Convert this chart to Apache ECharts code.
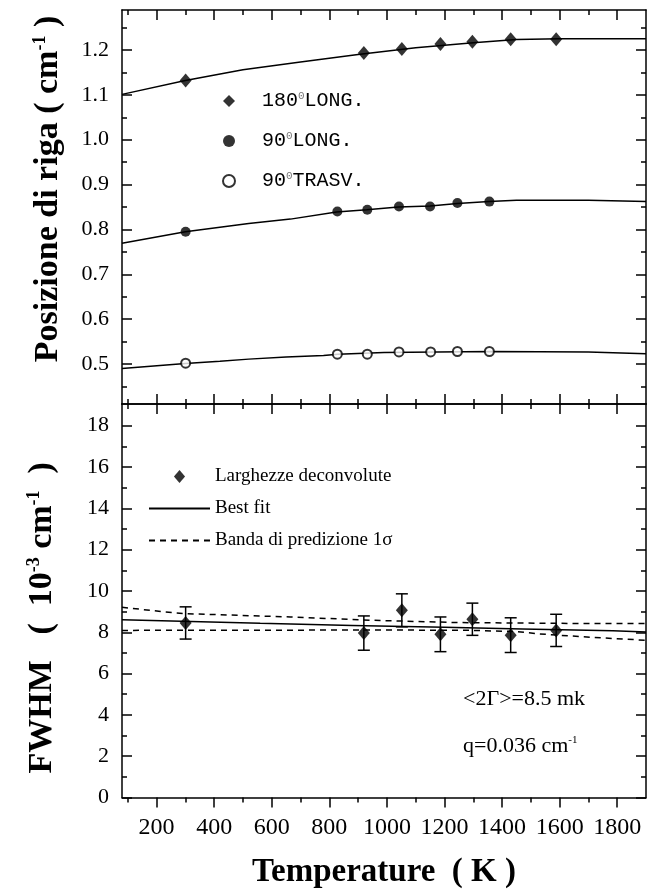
<!DOCTYPE html>
<html><head><meta charset="utf-8">
<script src="https://cdn.jsdelivr.net/npm/echarts@6/dist/echarts.min.js"></script>
<style>html,body{margin:0;padding:0;background:#fff}#c{width:649px;height:895px}</style>
</head><body><div id="c"></div>
<script>
// ---------- data ----------
const xMin = 80, xMax = 1900;
const xTicks = [200, 400, 600, 800, 1000, 1200, 1400, 1600, 1800];
const xMinorTicks = [100, 300, 500, 700, 900, 1100, 1300, 1500, 1700];
const topYMin = 0.411, topYMax = 1.289;
const topYTicks = [0.5, 0.6, 0.7, 0.8, 0.9, 1.0, 1.1, 1.2];
const topYMinor = [0.45, 0.55, 0.65, 0.75, 0.85, 0.95, 1.05, 1.15, 1.25];
const botYMin = 0, botYMax = 19.05;
const botYTicks = [0, 2, 4, 6, 8, 10, 12, 14, 16, 18];
const botYMinor = [1, 3, 5, 7, 9, 11, 13, 15, 17];

const tLong180 = [301, 920, 1052, 1186, 1297, 1430, 1588];
const pLong180 = [1.132, 1.193, 1.202, 1.213, 1.218, 1.224, 1.224];
const tLong90 = [301, 828, 932, 1042, 1150, 1245, 1356];
const pLong90 = [0.795, 0.840, 0.844, 0.851, 0.851, 0.859, 0.862];
const tTrasv90 = [301, 828, 932, 1042, 1152, 1245, 1356];
const pTrasv90 = [0.502, 0.522, 0.522, 0.527, 0.527, 0.528, 0.528];

const fit180T = [80, 300, 500, 700, 900, 1100, 1300, 1450, 1600, 1900];
const fit180V = [1.101, 1.132, 1.156, 1.173, 1.190, 1.205, 1.216, 1.223, 1.225, 1.225];
const fit90LT = [80, 300, 520, 665, 825, 930, 1040, 1150, 1245, 1355, 1450, 1700, 1900];
const fit90LV = [0.769, 0.795, 0.813, 0.823, 0.839, 0.844, 0.850, 0.852, 0.858, 0.862, 0.865, 0.865, 0.862];
const fit90TT = [80, 300, 420, 520, 650, 780, 830, 990, 1360, 1700, 1900];
const fit90TV = [0.490, 0.501, 0.506, 0.511, 0.516, 0.519, 0.522, 0.526, 0.528, 0.527, 0.523];

const tWidth = [301, 920, 1052, 1186, 1297, 1430, 1588];
const fwhm = [8.45, 7.96, 9.06, 7.90, 8.63, 7.86, 8.09];
const fwhmErr = [0.78, 0.83, 0.80, 0.84, 0.78, 0.84, 0.78];

const bestT = [80, 560, 880, 1200, 1470, 1785, 1900];
const bestV = [8.60, 8.43, 8.33, 8.24, 8.16, 8.07, 8.01];
const upT = [80, 230, 300, 665, 950, 1240, 1600, 1900];
const upV = [9.21, 8.98, 8.90, 8.74, 8.58, 8.47, 8.43, 8.42];
const loT = [80, 600, 1000, 1300, 1455, 1530, 1670, 1900];
const loV = [8.09, 8.10, 8.11, 8.09, 8.03, 7.92, 7.79, 7.61];

// ---------- helpers ----------
const zip = (a, b) => a.map((v, i) => [v, b[i]]);
const SERIF = 'Liberation Serif';
const BLK = '#000';
const LW = 1.5;
const DIAMOND = 'path://M0,-7L6,0L0,7L-6,0Z';
const DIAMOND_SQ = 'path://M0,-7L7,0L0,7L-7,0Z';

function axis(grid, pos, min, max, vals, len, inside, label, lineShow) {
  const a = {
    type: 'value', gridIndex: grid, position: pos, min: min, max: max,
    splitLine: { show: false },
    axisLine: { show: lineShow, onZero: false, lineStyle: { color: BLK, width: LW } },
    axisTick: { show: true, inside: inside, length: len, customValues: vals,
                lineStyle: { color: BLK, width: LW } },
    axisLabel: { show: false }
  };
  if (label) {
    a.axisLabel = Object.assign({ show: true, customValues: vals, color: BLK, fontFamily: SERIF }, label);
  }
  return a;
}

const xAxes = [
  // grid 0 (top panel)
  axis(0, 'bottom', xMin, xMax, xTicks, 10, true, null, true),
  axis(0, 'top', xMin, xMax, xTicks, 10, true, null, true),
  axis(0, 'bottom', xMin, xMax, xMinorTicks, 5, true, null, false),
  axis(0, 'top', xMin, xMax, xMinorTicks, 5, true, null, false),
  // grid 1 (bottom panel)
  axis(1, 'bottom', xMin, xMax, xTicks, 10, false, { fontSize: 24, margin: 18, formatter: v => String(v) }, true),
  axis(1, 'top', xMin, xMax, xTicks, 10, true, null, true),
  axis(1, 'bottom', xMin, xMax, xMinorTicks, 5, false, null, false),
  axis(1, 'top', xMin, xMax, xMinorTicks, 5, true, null, false)
];
xAxes[4].name = 'Temperature  ( K )';
xAxes[4].nameLocation = 'middle';
xAxes[4].nameGap = 58;
xAxes[4].nameTextStyle = { fontFamily: SERIF, fontWeight: 'bold', fontSize: 33, color: BLK };

const yAxes = [
  axis(0, 'left', topYMin, topYMax, topYTicks, 10, true,
       { fontSize: 22, margin: 13, formatter: v => v.toFixed(1) }, true),
  axis(0, 'right', topYMin, topYMax, topYTicks, 10, true, null, true),
  axis(0, 'left', topYMin, topYMax, topYMinor, 5, true, null, false),
  axis(0, 'right', topYMin, topYMax, topYMinor, 5, true, null, false),
  axis(1, 'left', botYMin, botYMax, botYTicks, 10, true, { fontSize: 22, margin: 13 }, true),
  axis(1, 'right', botYMin, botYMax, botYTicks, 10, true, null, true),
  axis(1, 'left', botYMin, botYMax, botYMinor, 5, true, null, false),
  axis(1, 'right', botYMin, botYMax, botYMinor, 5, true, null, false)
];
const titleRich = {
  t: { fontFamily: SERIF, fontWeight: 'bold', fontSize: 34, color: BLK },
  s: { fontFamily: SERIF, fontWeight: 'bold', fontSize: 18, color: BLK, verticalAlign: 'top' }
};
yAxes[0].name = '{t|Posizione di riga ( cm}{s|-1}{t| )}';
yAxes[0].nameLocation = 'middle';
yAxes[0].nameRotate = 90;
yAxes[0].nameGap = 57;
yAxes[0].nameTextStyle = { rich: titleRich, padding: [0, 0, 0, 36] };
yAxes[4].name = '{t|FWHM   (  10}{s|-3}{t| cm}{s|-1}{t|  )}';
yAxes[4].nameLocation = 'middle';
yAxes[4].nameRotate = 90;
yAxes[4].nameGap = 63;
yAxes[4].nameTextStyle = { rich: titleRich, padding: [0, 34, 0, 0] };

const lineS = (name, t, v, xi, yi, dashed) => ({
  name: name, type: 'line', xAxisIndex: xi, yAxisIndex: yi, data: zip(t, v),
  symbol: 'none', silent: true, z: 2,
  lineStyle: { color: BLK, width: LW, type: dashed ? [6, 5] : 'solid' },
  itemStyle: { color: BLK }
});

const N180 = '180 LONG.', N90L = '90 LONG.', N90T = '90 TRASV.';
const legRich = {
  a: { fontFamily: 'Liberation Mono', fontSize: 20, color: BLK, verticalAlign: 'bottom' },
  s: { fontFamily: 'Liberation Mono', fontSize: 11, color: '#777', verticalAlign: 'top' }
};
const legFmt = { [N180]: '{a|180}{s|0}{a|LONG.}', [N90L]: '{a|90}{s|0}{a|LONG.}', [N90T]: '{a|90}{s|0}{a|TRASV.}' };

const option = {
  backgroundColor: '#fff',
  animation: false,
  grid: [
    { left: 122, width: 524, top: 10, height: 394, containLabel: false },
    { left: 122, width: 524, top: 404, height: 393.5, containLabel: false }
  ],
  xAxis: xAxes,
  yAxis: yAxes,
  legend: [
    {
      data: [{ name: N180, icon: DIAMOND_SQ }, { name: N90L, icon: 'circle' }, { name: N90T, icon: 'emptyCircle' }],
      orient: 'vertical', left: 217, top: 86,
      itemWidth: 56, itemHeight: 12, itemGap: 20, selectedMode: false, symbolKeepAspect: true,
      formatter: n => legFmt[n], textStyle: { rich: legRich }
    },
    {
      data: [{ name: 'Larghezze deconvolute', icon: DIAMOND },
             { name: 'Best fit', itemStyle: { opacity: 0 } },
             { name: 'Banda di predizione 1σ', itemStyle: { opacity: 0 } }],
      orient: 'vertical', left: 143, top: 462,
      itemWidth: 61, itemHeight: 13, itemGap: 13, selectedMode: false, symbolKeepAspect: true,
      textStyle: { fontFamily: SERIF, fontSize: 19, color: BLK }
    }
  ],
  graphic: [
    { type: 'text', left: 463, top: 688, style: { text: '<2Γ>=8.5 mk', fontFamily: SERIF, fontSize: 22, fill: BLK } },
    { type: 'text', left: 463, top: 735,
      style: { text: '{a|q=0.036 cm}{s|-1}',
               rich: { a: { fontFamily: SERIF, fontSize: 22, color: BLK },
                       s: { fontFamily: SERIF, fontSize: 11, color: '#888', verticalAlign: 'top' } } } }
  ],
  series: [
    lineS('fit180', fit180T, fit180V, 0, 0, false),
    lineS('fit90L', fit90LT, fit90LV, 0, 0, false),
    lineS('fit90T', fit90TT, fit90TV, 0, 0, false),
    { name: N180, type: 'scatter', xAxisIndex: 0, yAxisIndex: 0, data: zip(tLong180, pLong180),
      symbol: 'diamond', symbolSize: [12, 14], itemStyle: { color: BLK }, z: 5 },
    { name: N90L, type: 'scatter', xAxisIndex: 0, yAxisIndex: 0, data: zip(tLong90, pLong90),
      symbol: 'circle', symbolSize: 10, itemStyle: { color: BLK }, z: 5 },
    { name: N90T, type: 'scatter', xAxisIndex: 0, yAxisIndex: 0, data: zip(tTrasv90, pTrasv90),
      symbol: 'emptyCircle', symbolSize: 9, itemStyle: { color: BLK, borderColor: BLK, borderWidth: 1.3 }, z: 5 },

    lineS('Best fit', bestT, bestV, 4, 4, false),
    lineS('Banda di predizione 1σ', upT, upV, 4, 4, true),
    lineS('Banda di predizione 1σ', loT, loV, 4, 4, true),
    { name: 'errbars', type: 'custom', xAxisIndex: 4, yAxisIndex: 4, z: 4, silent: true,
      data: tWidth.map((t, i) => [t, fwhm[i] - fwhmErr[i], fwhm[i] + fwhmErr[i]]),
      encode: { x: 0, y: [1, 2] },
      renderItem: function (params, api) {
        const x = api.value(0);
        const pt = api.coord([x, api.value(2)]);
        const pb = api.coord([x, api.value(1)]);
        const c = 6, st = { stroke: BLK, lineWidth: LW };
        return { type: 'group', children: [
          { type: 'line', shape: { x1: pt[0], y1: pt[1], x2: pb[0], y2: pb[1] }, style: st },
          { type: 'line', shape: { x1: pt[0] - c, y1: pt[1], x2: pt[0] + c, y2: pt[1] }, style: st },
          { type: 'line', shape: { x1: pb[0] - c, y1: pb[1], x2: pb[0] + c, y2: pb[1] }, style: st }
        ] };
      }
    },
    { name: 'Larghezze deconvolute', type: 'scatter', xAxisIndex: 4, yAxisIndex: 4, data: zip(tWidth, fwhm),
      symbol: 'diamond', symbolSize: [12, 14], itemStyle: { color: BLK }, z: 5 }
  ]
};

const chart = echarts.init(document.getElementById('c'), null, { renderer: 'canvas' });
chart.setOption(option);
</script>
</body></html>
